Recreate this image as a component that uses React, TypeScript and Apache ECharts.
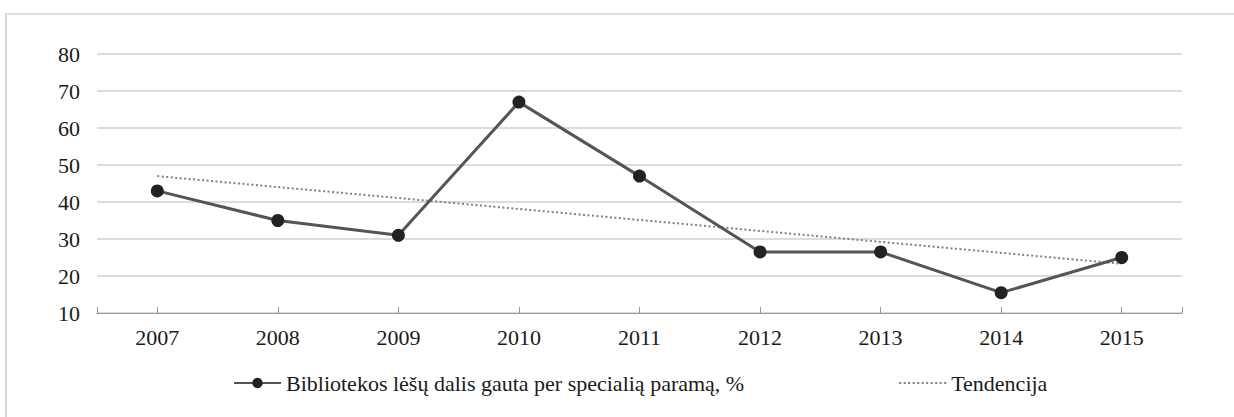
import React, { useEffect, useRef } from "react";
import * as echarts from "echarts";

const categories = ["2007", "2008", "2009", "2010", "2011", "2012", "2013", "2014", "2015"];
const shareValues = [43, 35, 31, 67, 47, 26.5, 26.5, 15.5, 25];
const trendValues: (number | null)[] = [47, null, null, null, null, null, null, null, 23.3];
const yTicks = { min: 10, max: 80, interval: 10 };
const seriesName = "Bibliotekos lėšų dalis gauta per specialią paramą, %";
const trendName = "Tendencija";

const FONT = "'Liberation Serif', 'Times New Roman', serif";

export default function App() {
  const ref = useRef<HTMLDivElement>(null);
  useEffect(() => {
    if (!ref.current) return;
    const chart = echarts.init(ref.current, null, { renderer: "svg" });
    chart.setOption({
      animation: false,
      backgroundColor: "#fff",
      textStyle: { fontFamily: FONT },
      graphic: [
        {
          type: "rect",
          shape: { x: 6, y: 14, width: 1400, height: 600 },
          style: { fill: "none", stroke: "#bdbdbd", lineWidth: 1.2 },
          silent: true,
          z: -1,
        },
      ],
      grid: { left: 97, right: 52, top: 54, bottom: 104, containLabel: false },
      legend: {
        left: 228,
        top: 367,
        itemWidth: 47,
        itemHeight: 13,
        itemGap: 154,
        textStyle: { fontFamily: FONT, fontSize: 22, color: "#1a1a1a" },
        data: [
          { name: seriesName },
          { name: trendName, itemStyle: { opacity: 0 } },
        ],
      },
      xAxis: [
        {
          type: "category",
          data: categories,
          boundaryGap: true,
          axisLine: { lineStyle: { color: "#9a9a9a", width: 1.2 } },
          axisTick: { show: true, alignWithLabel: true, inside: true, length: 6, lineStyle: { color: "#9a9a9a" } },
          axisLabel: { fontFamily: FONT, fontSize: 22, color: "#1a1a1a", margin: 13 },
          splitLine: { show: false },
        },
        {
          type: "value",
          position: "bottom",
          min: 0,
          max: 1,
          interval: 1,
          axisLine: { show: false },
          axisTick: { show: true, inside: true, length: 6, lineStyle: { color: "#9a9a9a" } },
          axisLabel: { show: false },
          splitLine: { show: false },
        },
      ],
      yAxis: {
        type: "value",
        min: yTicks.min,
        max: yTicks.max,
        interval: yTicks.interval,
        axisLine: { show: false },
        axisTick: { show: false },
        axisLabel: { fontFamily: FONT, fontSize: 22, color: "#1a1a1a", margin: 17 },
        splitLine: { lineStyle: { color: "#d0d0d0", width: 1.5 } },
      },
      series: [
        {
          name: trendName,
          type: "line",
          xAxisIndex: 0,
          data: trendValues,
          connectNulls: true,
          symbol: "none",
          lineStyle: { color: "#808080", width: 2, type: [2, 2.5] },
          itemStyle: { color: "#808080" },
          z: 1,
        },
        {
          name: seriesName,
          type: "line",
          xAxisIndex: 0,
          data: shareValues,
          symbol: "circle",
          symbolSize: 13,
          lineStyle: { color: "#555555", width: 3 },
          itemStyle: { color: "#222222" },
          z: 2,
        },
      ],
    });
    return () => chart.dispose();
  }, []);
  return (
    <div
      ref={ref}
      style={{ position: "fixed", left: 0, top: 0, width: 1234, height: 417 }}
    />
  );
}
